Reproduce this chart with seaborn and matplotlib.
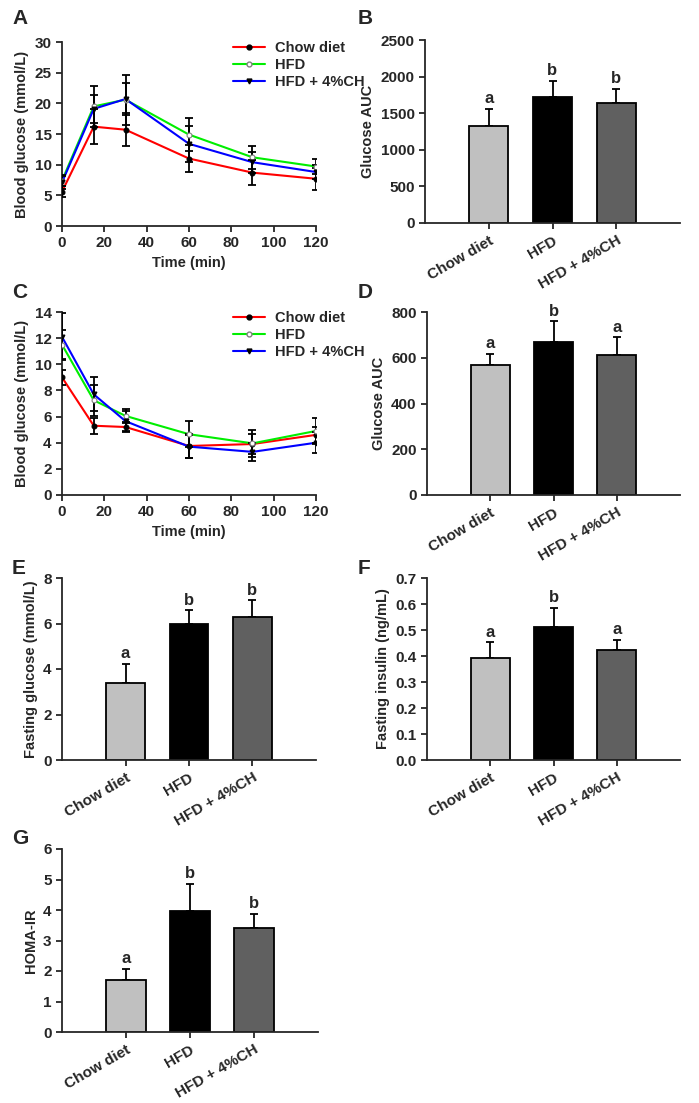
import matplotlib
matplotlib.use("Agg")
import matplotlib.pyplot as plt
from matplotlib.lines import Line2D
import numpy as np
import pandas as pd
import seaborn as sns

# data
groups = ["Chow diet", "HFD", "HFD + 4%CH"]
times = [0, 15, 30, 60, 90, 120]

gtt_mean = {
    "Chow diet": [5.6, 16.2, 15.7, 11.0, 8.7, 7.7],
    "HFD": [7.4, 19.5, 20.6, 14.9, 11.2, 9.7],
    "HFD + 4%CH": [7.1, 19.1, 20.7, 13.4, 10.4, 8.8],
}
gtt_err = {
    "Chow diet": [0.9, 2.8, 2.7, 2.2, 2.0, 1.8],
    "HFD": [0.9, 3.4, 4.1, 2.7, 1.9, 1.3],
    "HFD + 4%CH": [1.0, 2.3, 2.6, 2.9, 1.7, 1.2],
}
itt_mean = {
    "Chow diet": [9.0, 5.3, 5.2, 3.75, 3.9, 4.6],
    "HFD": [11.5, 7.25, 6.05, 4.65, 3.95, 4.9],
    "HFD + 4%CH": [12.1, 7.7, 5.65, 3.7, 3.3, 4.0],
}
itt_err = {
    "Chow diet": [0.6, 0.6, 0.3, 0.9, 0.8, 0.6],
    "HFD": [1.1, 1.2, 0.5, 1.0, 1.05, 1.0],
    "HFD + 4%CH": [1.8, 1.3, 0.8, 0.9, 0.7, 0.8],
}

auc_gtt = [1330, 1715, 1633]
auc_gtt_err = [230, 228, 200]
auc_gtt_sig = ["a", "b", "b"]

auc_itt = [567, 669, 611]
auc_itt_err = [50, 90, 78]
auc_itt_sig = ["a", "b", "a"]

fast_glu = [3.38, 5.99, 6.29]
fast_glu_err = [0.86, 0.59, 0.73]
fast_glu_sig = ["a", "b", "b"]

fast_ins = [0.394, 0.512, 0.423]
fast_ins_err = [0.058, 0.072, 0.040]
fast_ins_sig = ["a", "b", "a"]

homa = [1.70, 3.98, 3.42]
homa_err = [0.37, 0.87, 0.45]
homa_sig = ["a", "b", "b"]

line_colors = {"Chow diet": "#ff0000", "HFD": "#00ee00", "HFD + 4%CH": "#0000ff"}
marker_style = {
    "Chow diet": dict(marker="o", mfc="black", mec="black"),
    "HFD": dict(marker="o", mfc="white", mec="#808080"),
    "HFD + 4%CH": dict(marker="v", mfc="black", mec="black"),
}
bar_colors = ["#c0c0c0", "#000000", "#606060"]

sns.set_style("ticks")
plt.rcParams["font.family"] = ["Liberation Sans", "DejaVu Sans"]
plt.rcParams["font.weight"] = "bold"
plt.rcParams["axes.labelweight"] = "bold"
plt.rcParams["axes.linewidth"] = 1.3
plt.rcParams["xtick.major.width"] = 1.3
plt.rcParams["ytick.major.width"] = 1.3
plt.rcParams["xtick.major.size"] = 4
plt.rcParams["ytick.major.size"] = 4
plt.rcParams["xtick.labelsize"] = 11
plt.rcParams["ytick.labelsize"] = 11

W, H = 699, 1103
fig = plt.figure(figsize=(W / 100, H / 100), dpi=100)


def make_ax(left, right, top, bottom):
    return fig.add_axes([left / W, 1 - bottom / H, (right - left) / W, (bottom - top) / H])


def line_panel(ax, means, errs, ymax, ystep, label, legend):
    rows = []
    for g in groups:
        for t, m in zip(times, means[g]):
            rows.append({"time": t, "value": m, "group": g})
    df = pd.DataFrame(rows)
    sns.lineplot(data=df, x="time", y="value", hue="group", palette=line_colors,
                 ax=ax, legend=False, lw=1.5, zorder=2)
    for g in groups:
        ax.errorbar(times, means[g], yerr=errs[g], fmt="none", ecolor="black",
                    elinewidth=1.3, capsize=3, capthick=1.3, zorder=3)
        ax.plot(times, means[g], ls="none", ms=3.5, mew=0.8, zorder=4, **marker_style[g])
    ax.set_xlim(0, 120)
    ax.set_ylim(0, ymax)
    ax.set_xticks(range(0, 121, 20))
    ax.set_yticks(np.arange(0, ymax + 0.01, ystep))
    ax.set_xlabel("Time (min)", fontsize=10.5)
    ax.set_ylabel(label, fontsize=10.5)
    ax.spines["top"].set_visible(False)
    ax.spines["right"].set_visible(False)
    if legend:
        handles = [Line2D([], [], color=line_colors[g], lw=1.5, ms=3.5, **marker_style[g])
                   for g in groups]
        ax.legend(handles, groups, loc="upper left", bbox_to_anchor=(0.65, 1.035),
                  frameon=False, fontsize=10.5, handlelength=2.2, handletextpad=0.7,
                  labelspacing=0.2, borderaxespad=0)


def bar_panel(ax, vals, errs, sig, ymax, ystep, label, fmt=None):
    df = pd.DataFrame({"group": groups, "value": vals})
    sns.barplot(data=df, x="group", y="value", hue="group", palette=bar_colors,
                ax=ax, width=0.61, edgecolor="black", linewidth=1.3, legend=False,
                errorbar=None, zorder=2)
    x = np.arange(len(groups))
    ax.errorbar(x, vals, yerr=[np.zeros(len(vals)), errs], fmt="none", ecolor="black",
                elinewidth=1.3, capsize=3, capthick=1.3, zorder=1)
    for xi, v, e, s in zip(x, vals, errs, sig):
        ax.text(xi, v + e + ymax * 0.015, s, ha="center", va="bottom",
                fontsize=12, fontweight="bold")
    ax.set_xlim(-1, 3)
    ax.set_ylim(0, ymax)
    ticks = np.arange(0, ymax + ystep * 0.01, ystep)
    ax.set_yticks(ticks)
    if fmt:
        ax.set_yticklabels([fmt.format(t) for t in ticks])
    ax.set_xticks(x)
    ax.set_xticklabels(groups, rotation=30, ha="right", rotation_mode="anchor")
    ax.set_xlabel("")
    ax.set_ylabel(label, fontsize=10.5)
    ax.spines["top"].set_visible(False)
    ax.spines["right"].set_visible(False)


axA = make_ax(62, 316, 42, 226)
line_panel(axA, gtt_mean, gtt_err, 30, 5, "Blood glucose (mmol/L)", True)
axB = make_ax(425, 680, 40, 223)
bar_panel(axB, auc_gtt, auc_gtt_err, auc_gtt_sig, 2500, 500, "Glucose AUC")
axC = make_ax(62, 316, 312, 495)
line_panel(axC, itt_mean, itt_err, 14, 2, "Blood glucose (mmol/L)", True)
axD = make_ax(427, 680, 312, 495)
bar_panel(axD, auc_itt, auc_itt_err, auc_itt_sig, 800, 200, "Glucose AUC")
axE = make_ax(62, 316, 578, 760)
bar_panel(axE, fast_glu, fast_glu_err, fast_glu_sig, 8, 2, "Fasting glucose (mmol/L)")
axF = make_ax(427, 680, 578, 760)
bar_panel(axF, fast_ins, fast_ins_err, fast_ins_sig, 0.7, 0.1, "Fasting insulin (ng/mL)",
          fmt="{:.1f}")
axG = make_ax(62, 318, 849, 1032)
bar_panel(axG, homa, homa_err, homa_sig, 6, 1, "HOMA-IR")

for lab, (px, py) in zip("ABCDEFG", [(12, 18), (358, 18), (12, 293), (358, 293),
                                     (12, 568), (358, 568), (12, 838)]):
    fig.text(px / W, 1 - py / H, lab, fontsize=15, fontweight="bold", va="center")

fig.savefig("out.png", dpi=100, facecolor="white")
